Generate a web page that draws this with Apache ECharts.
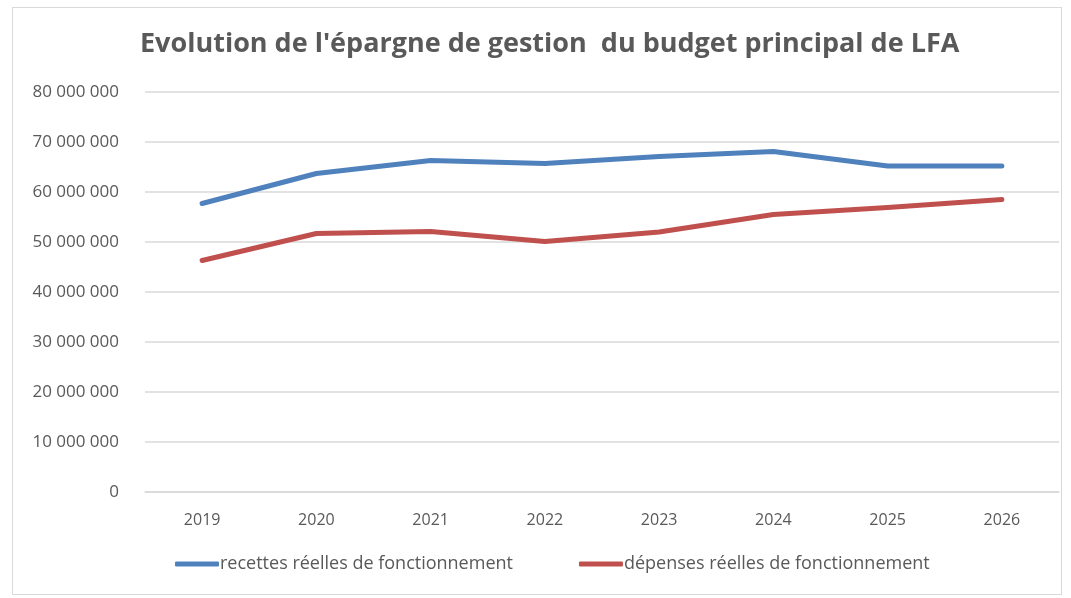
<!DOCTYPE html>
<html><head><meta charset="utf-8">
<script src="https://cdn.jsdelivr.net/npm/echarts@6/dist/echarts.min.js"></script>
<style>html,body{margin:0;padding:0;background:#fff}#c{width:1071px;height:598px}
#frame{position:absolute;left:12px;top:7px;width:1050px;height:588px;border:1px solid #d9d9d9;box-sizing:border-box;pointer-events:none}</style>
</head><body><div id="c"></div><div id="frame"></div>
<script>
const years = ['2019','2020','2021','2022','2023','2024','2025','2026'];
const recettes = [57700000, 63700000, 66300000, 65700000, 67100000, 68100000, 65200000, 65200000];
const depenses = [46300000, 51700000, 52100000, 50100000, 52000000, 55500000, 56900000, 58500000];
const seriesNames = ['recettes réelles de fonctionnement', 'dépenses réelles de fonctionnement'];
const titleText = "Evolution de l'épargne de gestion  du budget principal de LFA";

const fmt = v => String(v).replace(/\B(?=(\d{3})+(?!\d))/g, ' ');
const chart = echarts.init(document.getElementById('c'), null, {renderer:'canvas'});
const font = '"Open Sans", "Liberation Sans", sans-serif';
chart.setOption({
  animation: false,
  title: {text: titleText, left: 135, top: 26,
    textStyle: {fontFamily: font, fontSize: 27, fontWeight: 'bold', color: '#595959'}},
  grid: {left: 145, right: 12, top: 92, bottom: 106, containLabel: false},
  xAxis: {type: 'category', data: years, boundaryGap: true,
    axisLine: {lineStyle: {color: '#d9d9d9', width: 1.5}}, axisTick: {show: false},
    axisLabel: {fontFamily: font, fontSize: 16, color: '#595959', margin: 20}},
  yAxis: {type: 'value', min: 0, max: 80000000, interval: 10000000,
    axisLine: {show: false}, axisTick: {show: false},
    splitLine: {lineStyle: {color: '#d9d9d9', width: 1.5}},
    axisLabel: {fontFamily: font, fontSize: 17, color: '#595959', margin: 26, formatter: fmt}},
  legend: {bottom: 20, left: 170, itemGap: 66, itemWidth: 44, itemHeight: 5,
    icon: 'roundRect',
    textStyle: {fontFamily: font, fontSize: 18, color: '#595959', padding: [0,0,0,-4]},
    data: seriesNames},
  series: [
    {name: seriesNames[0], type: 'line', data: recettes, symbol: 'none',
     lineStyle: {color: '#4f81bd', width: 5, cap: 'round', join: 'round'}, itemStyle: {color: '#4f81bd'}},
    {name: seriesNames[1], type: 'line', data: depenses, symbol: 'none',
     lineStyle: {color: '#c0504d', width: 5, cap: 'round', join: 'round'}, itemStyle: {color: '#c0504d'}}
  ]
});
</script></body></html>
